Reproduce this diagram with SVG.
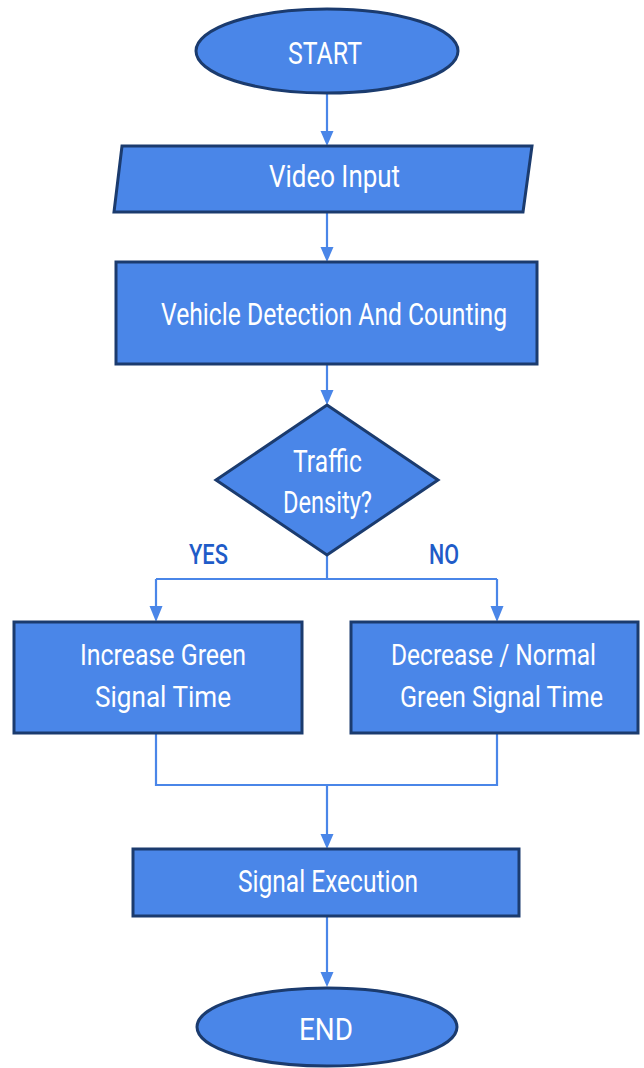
<svg xmlns="http://www.w3.org/2000/svg" width="644" height="1068" viewBox="0 0 644 1068">
<defs>
<style>
.n{fill:#4a86e8;stroke:#1b3b6e;stroke-width:3;stroke-linejoin:miter}
.t{fill:#ffffff;font-family:Roboto,"Liberation Sans",sans-serif;font-size:32px;text-anchor:middle}
.s{font-size:30px}
.c{fill:none;stroke:#4a86e8;stroke-width:2.2}
.a{fill:#4a86e8}
.l{fill:#1f5cc8;font-family:Roboto,"Liberation Sans",sans-serif;font-size:28px;font-weight:500;text-anchor:middle}
</style>
</defs>
<rect width="644" height="1068" fill="#ffffff"/>
<g id="connectors">
<path class="c" d="M327,93 V131"/>
<path class="a" d="M320.5,131 L333.5,131 L327,146 Z"/>
<path class="c" d="M327,212 V247"/>
<path class="a" d="M320.5,247 L333.5,247 L327,262 Z"/>
<path class="c" d="M327,364 V390"/>
<path class="a" d="M320.5,390 L333.5,390 L327,405 Z"/>
<path class="c" d="M327,555 V579 M156,579 H497 M156,579 V607 M497,579 V607"/>
<path class="a" d="M149.5,606 L162.5,606 L156,622 Z"/>
<path class="a" d="M490.5,606 L503.5,606 L497,622 Z"/>
<path class="c" d="M156,733 V785 H497 V733 M327,785 V834"/>
<path class="a" d="M320.5,834 L333.5,834 L327,849 Z"/>
<path class="c" d="M327,916 V972"/>
<path class="a" d="M320.5,972 L333.5,972 L327,987 Z"/>
</g>
<g id="start">
<ellipse class="n" cx="327" cy="51" rx="131" ry="42"/>
<text class="t" x="325" y="64" textLength="74" lengthAdjust="spacingAndGlyphs">START</text>
</g>
<g id="video-input">
<polygon class="n" points="122,146 532,146 523,212 114,212"/>
<text class="t" x="334.5" y="187" textLength="131" lengthAdjust="spacingAndGlyphs">Video Input</text>
</g>
<g id="vehicle-detection">
<rect class="n" x="116" y="262" width="421" height="102"/>
<text class="t" x="334" y="325" textLength="346" lengthAdjust="spacingAndGlyphs">Vehicle Detection And Counting</text>
</g>
<g id="traffic-density">
<polygon class="n" points="327,405 438,480 327,555 216,480"/>
<text class="t" x="327.5" y="472" textLength="69" lengthAdjust="spacingAndGlyphs">Traffic</text>
<text class="t" x="327.5" y="513" textLength="89" lengthAdjust="spacingAndGlyphs">Density?</text>
</g>
<g id="labels">
<text class="l" x="208.5" y="564" textLength="39" lengthAdjust="spacingAndGlyphs">YES</text>
<text class="l" x="444" y="564" textLength="30" lengthAdjust="spacingAndGlyphs">NO</text>
</g>
<g id="increase-green">
<rect class="n" x="14" y="622" width="288" height="111"/>
<text class="t s" x="163" y="665" textLength="166" lengthAdjust="spacingAndGlyphs">Increase Green</text>
<text class="t s" x="163" y="707" textLength="136" lengthAdjust="spacingAndGlyphs">Signal Time</text>
</g>
<g id="decrease-normal">
<rect class="n" x="351" y="622" width="287" height="111"/>
<text class="t s" x="493.5" y="665" textLength="205" lengthAdjust="spacingAndGlyphs">Decrease / Normal</text>
<text class="t s" x="501.5" y="707" textLength="203" lengthAdjust="spacingAndGlyphs">Green Signal Time</text>
</g>
<g id="signal-execution">
<rect class="n" x="133" y="849" width="386" height="67"/>
<text class="t" x="328" y="892" textLength="180" lengthAdjust="spacingAndGlyphs">Signal Execution</text>
</g>
<g id="end">
<ellipse class="n" cx="327" cy="1027" rx="130" ry="39"/>
<text class="t" x="326" y="1040" textLength="54" lengthAdjust="spacingAndGlyphs">END</text>
</g>
</svg>
